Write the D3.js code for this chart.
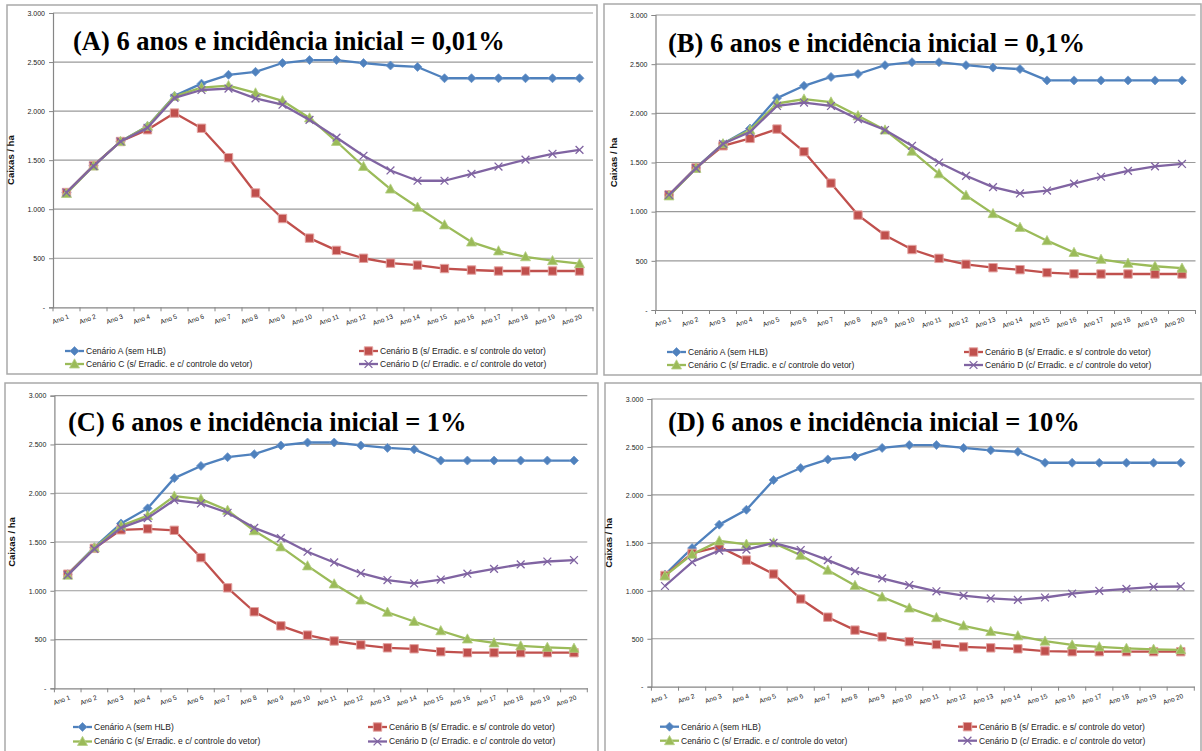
<!DOCTYPE html>
<html>
<head>
<meta charset="utf-8">
<script src="https://cdn.jsdelivr.net/npm/d3@7"></script>
<style>
	body { margin: 0; background: #fff; }
	svg { display: block; }
	.titulo { font-family: "Liberation Serif", "Times New Roman", Times, "DejaVu Serif", serif; font-weight: bold; }
	.pequeno { font-family: "Liberation Sans", Arial, sans-serif; }
</style>
</head>
<body>
<svg id="chart" width="1202" height="751"></svg>
<script>
// ---- dados ----
var anos = d3.range(1, 21).map(function (i) { return "Ano " + i; });

var cenarios = [
	"Cenário A (sem HLB)",
	"Cenário B (s/ Erradic. e s/ controle do vetor)",
	"Cenário C (s/ Erradic. e c/ controle do vetor)",
	"Cenário D (c/ Erradic. e c/ controle do vetor)"
];

var titulos = [
	"(A) 6 anos e incidência inicial = 0,01%",
	"(B) 6 anos e incidência inicial = 0,1%",
	"(C) 6 anos e incidência inicial = 1%",
	"(D) 6 anos e incidência inicial = 10%"
];

var yTicks = [0, 500, 1000, 1500, 2000, 2500, 3000];

// cenario A (sem HLB) e igual nos quatro graficos
var semHLB = [1170, 1445, 1690, 1845, 2155, 2280, 2370, 2400, 2490, 2520, 2520, 2490, 2465, 2450, 2335, 2335, 2335, 2335, 2335, 2335];

// incidencia 0,01%
var inc001B = [1170, 1445, 1690, 1810, 1980, 1825, 1525, 1165, 905, 705, 580, 500, 450, 430, 395, 380, 370, 370, 370, 370];
var inc001C = [1160, 1440, 1690, 1845, 2150, 2240, 2260, 2185, 2105, 1930, 1690, 1435, 1205, 1020, 840, 665, 575, 515, 475, 445];
var inc001D = [1170, 1440, 1690, 1830, 2135, 2215, 2230, 2130, 2065, 1910, 1730, 1545, 1395, 1290, 1290, 1360, 1435, 1505, 1565, 1605];

// incidencia 0,1%
var inc01B = [1170, 1445, 1670, 1745, 1840, 1610, 1290, 965, 760, 615, 525, 465, 430, 410, 380, 368, 366, 366, 366, 366];
var inc01C = [1160, 1440, 1690, 1830, 2100, 2145, 2115, 1975, 1830, 1615, 1385, 1165, 980, 840, 705, 585, 515, 475, 445, 425];
var inc01D = [1170, 1440, 1690, 1810, 2075, 2110, 2075, 1940, 1830, 1670, 1500, 1365, 1250, 1185, 1215, 1285, 1355, 1415, 1460, 1485];

// incidencia 1%
var inc1B = [1170, 1435, 1625, 1635, 1620, 1340, 1030, 785, 640, 545, 485, 445, 415, 405, 375, 365, 365, 365, 365, 365];
var inc1C = [1160, 1440, 1665, 1770, 1970, 1940, 1825, 1615, 1450, 1255, 1070, 905, 780, 685, 590, 505, 465, 435, 420, 410];
var inc1D = [1160, 1430, 1645, 1745, 1930, 1895, 1800, 1645, 1540, 1400, 1290, 1180, 1110, 1075, 1115, 1175, 1225, 1270, 1300, 1315];

// incidencia 10%
var inc10B = [1160, 1390, 1460, 1320, 1175, 915, 725, 590, 520, 470, 440, 415, 405, 395, 372, 365, 365, 365, 365, 365];
var inc10C = [1155, 1380, 1520, 1485, 1500, 1370, 1215, 1055, 935, 820, 720, 635, 575, 530, 475, 435, 415, 400, 390, 385];
var inc10D = [1050, 1300, 1420, 1430, 1500, 1425, 1320, 1205, 1130, 1060, 995, 950, 920, 905, 930, 970, 1000, 1020, 1040, 1045];

// ---- layout ----
var cores = ["#4F81BD", "#C0504D", "#9BBB59", "#8064A2"];

var paineis = [
	{ box: [7, 5, 597, 374], plot: [53, 13, 593, 307.3], title: [73, 50], leg: [65, 359, 351, 364],
	  series: [semHLB, inc001B, inc001C, inc001D] },
	{ box: [604, 4, 1201, 375], plot: [655.5, 15, 1195.5, 310], title: [668, 52], leg: [667, 964, 352, 365],
	  series: [semHLB, inc01B, inc01C, inc01D] },
	{ box: [5, 383, 598, 760], plot: [54.4, 395.7, 587.3, 688.3], title: [68, 431], leg: [73, 368, 727, 741.5],
	  series: [semHLB, inc1B, inc1C, inc1D] },
	{ box: [605, 383, 1201, 760], plot: [651.4, 399, 1194.3, 686.7], title: [668, 431], leg: [660, 958, 726.7, 740.7],
	  series: [semHLB, inc10B, inc10C, inc10D] }
];

var ptBR = d3.formatLocale({ decimal: ",", thousands: ".", grouping: [3], currency: ["R$", ""] });
var fmt = ptBR.format(",d");

// marcadores estilo Excel
var marcador = [
	function (g) { g.append("path").attr("d", "M0,-4.5L4.5,0L0,4.5L-4.5,0Z").attr("fill", cores[0]).attr("stroke", "#6d97cc").attr("stroke-width", 0.8); },
	function (g) { g.append("path").attr("d", "M-4.2,-4.2h8.4v8.4h-8.4Z").attr("fill", cores[1]).attr("stroke", "#e3a4a2").attr("stroke-width", 1); },
	function (g) { g.append("path").attr("d", "M0,-5.2L5,4L-5,4Z").attr("fill", cores[2]).attr("stroke", "#b5cf85").attr("stroke-width", 0.8); },
	function (g) { g.append("path").attr("d", "M-3.9,-3.9L3.9,3.9M3.9,-3.9L-3.9,3.9").attr("fill", "none").attr("stroke", cores[3]).attr("stroke-width", 1.3); }
];

var svg = d3.select("#chart");

paineis.forEach(function (p, k) {
	var g = svg.append("g");

	var x = d3.scaleBand()
		.domain(anos)
		.range([p.plot[0], p.plot[2]]);

	var y = d3.scaleLinear()
		.domain([0, 3000])
		.range([p.plot[3], p.plot[1]]);

	// moldura
	g.append("rect")
		.attr("x", p.box[0]).attr("y", p.box[1])
		.attr("width", p.box[2] - p.box[0]).attr("height", p.box[3] - p.box[1])
		.attr("fill", "#fff")
		.attr("stroke", "#a9a9a9")
		.attr("stroke-width", 1.5);

	// linhas de grade
	g.append("g")
		.selectAll("line")
		.data(yTicks.slice(1))
		.join("line")
			.attr("x1", p.plot[0]).attr("x2", p.plot[2])
			.attr("y1", y).attr("y2", y)
			.attr("stroke", "#9a9a9a")
			.attr("stroke-width", 1.2);

	// eixo y
	g.append("g")
		.attr("transform", `translate(${p.plot[0]},0)`)
		.call(d3.axisLeft(y).tickValues(yTicks).tickSize(4).tickPadding(4)
			.tickFormat(d => d === 0 ? "-" : fmt(d)))
		.call(a => a.attr("font-family", null).attr("font-size", null))
		.call(a => a.select(".domain").attr("stroke", "#868686").attr("stroke-width", 1.2))
		.call(a => a.selectAll(".tick line").attr("stroke", "#868686"))
		.call(a => a.selectAll("text")
			.attr("class", "pequeno")
			.attr("font-size", 7)
			.attr("fill", "#222"));

	// eixo x
	g.append("g")
		.attr("transform", `translate(0,${p.plot[3]})`)
		.call(d3.axisBottom(x).tickSize(0).tickPadding(0))
		.call(a => a.attr("font-family", null).attr("font-size", null))
		.call(a => a.select(".domain").attr("stroke", "#868686").attr("stroke-width", 1.2))
		.call(a => a.selectAll("text")
			.attr("y", 0).attr("dy", 0)
			.attr("text-anchor", "end")
			.attr("transform", "translate(3,11) rotate(-20)")
			.attr("class", "pequeno")
			.attr("font-size", 6.6)
			.attr("fill", "#222"));

	g.append("g")
		.selectAll("line")
		.data(anos.map(d => x(d)).concat([p.plot[2]]))
		.join("line")
			.attr("x1", d => d).attr("x2", d => d)
			.attr("y1", p.plot[3]).attr("y2", p.plot[3] + 4)
			.attr("stroke", "#868686");

	// titulo do eixo y
	g.append("text")
		.attr("class", "pequeno")
		.attr("transform", `translate(${p.plot[0] - 39},${(p.plot[1] + p.plot[3]) / 2}) rotate(-90)`)
		.attr("text-anchor", "middle")
		.attr("font-weight", "bold")
		.attr("font-size", 9.5)
		.attr("fill", "#111")
		.text("Caixas / ha");

	// series
	var line = d3.line()
		.x((d, i) => x(anos[i]) + x.bandwidth() / 2)
		.y(d => y(d));

	p.series.forEach(function (s, j) {
		var sg = g.append("g");
		sg.append("path")
			.attr("d", line(s))
			.attr("fill", "none")
			.attr("stroke", cores[j])
			.attr("stroke-width", 2.3)
			.attr("stroke-linejoin", "round");
		sg.selectAll("g")
			.data(s)
			.join("g")
				.attr("transform", (d, i) => `translate(${x(anos[i]) + x.bandwidth() / 2},${y(d)})`)
				.each(function () { marcador[j](d3.select(this)); });
	});

	// titulo do grafico
	g.append("text")
		.attr("class", "titulo")
		.attr("x", p.title[0])
		.attr("y", p.title[1])
		.attr("font-size", 26.5)
		.attr("fill", "#000")
		.text(titulos[k]);

	// legenda
	var legPos = [[p.leg[0], p.leg[2]], [p.leg[1], p.leg[2]], [p.leg[0], p.leg[3]], [p.leg[1], p.leg[3]]];
	cenarios.forEach(function (c, j) {
		var lg = g.append("g").attr("transform", `translate(${legPos[j][0]},${legPos[j][1]})`);
		lg.append("line")
			.attr("x1", 0).attr("x2", 19)
			.attr("stroke", cores[j])
			.attr("stroke-width", 2.3);
		lg.append("g").attr("transform", "translate(9.5,0)").call(m => marcador[j](m));
		lg.append("text")
			.attr("class", "pequeno")
			.attr("x", 21)
			.attr("dy", "0.35em")
			.attr("font-size", 8.5)
			.attr("fill", "#222")
			.text(c);
	});
});
</script>
</body>
</html>
